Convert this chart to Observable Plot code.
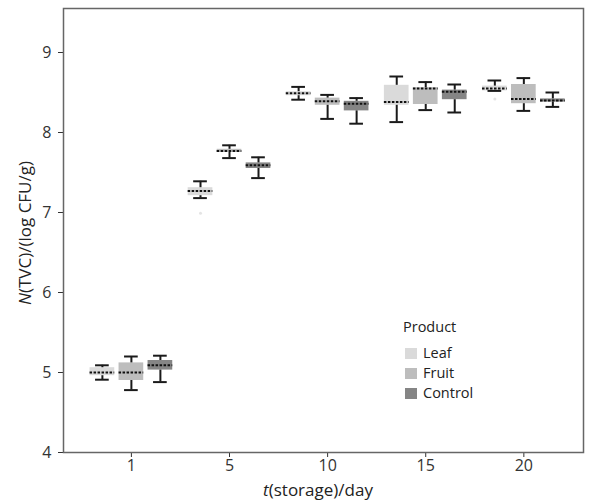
<!DOCTYPE html>
<html><head><meta charset="utf-8">
<script src="https://cdn.jsdelivr.net/npm/d3@7"></script>
<script src="https://cdn.jsdelivr.net/npm/@observablehq/plot@0.6"></script>
<style>
body{margin:0;background:#fff;font-family:"Open Sans",sans-serif;}
#wrap{position:relative;width:595px;height:500px;}
.lab{position:absolute;color:#222;font-size:17px;white-space:nowrap;line-height:1;}
.sw{position:absolute;width:12px;height:11px;}
</style></head><body><div id="wrap"></div>
<script>
const days = ["1", "5", "10", "15", "20"];
const products = ["Leaf", "Fruit", "Control"];
const productColors = ["#dadada", "#bdbdbd", "#858585"];
// per day: [low whisker, Q1, median, Q3, high whisker]
const leaf = [[4.91, 4.96, 5.00, 5.06, 5.09], [7.18, 7.21, 7.27, 7.31, 7.39], [8.41, 8.46, 8.49, 8.51, 8.57], [8.13, 8.34, 8.38, 8.59, 8.70], [8.52, 8.52, 8.55, 8.58, 8.65]];
const fruit = [[4.78, 4.90, 5.00, 5.12, 5.20], [7.68, 7.75, 7.77, 7.79, 7.84], [8.17, 8.34, 8.39, 8.43, 8.47], [8.28, 8.35, 8.55, 8.56, 8.63], [8.27, 8.36, 8.42, 8.60, 8.68]];
const control = [[4.88, 5.03, 5.09, 5.15, 5.21], [7.43, 7.55, 7.59, 7.62, 7.69], [8.11, 8.27, 8.36, 8.39, 8.43], [8.25, 8.41, 8.51, 8.53, 8.60], [8.32, 8.38, 8.40, 8.42, 8.50]];
const outlierDay = ["5", "20"];
const outlierProduct = ["Leaf", "Leaf"];
const outlierValue = [6.99, 8.42];
const yTicks = [4, 5, 6, 7, 8, 9];

const rows = [];
[leaf, fruit, control].forEach((arr, i) => arr.forEach((s, j) => rows.push({
  day: days[j], product: products[i], lo: s[0], q1: s[1], med: s[2], q3: s[3], hi: s[4]
})));
const outliers = outlierDay.map((d, i) => ({day: d, product: outlierProduct[i], v: outlierValue[i]}));

const groupStep = 29, boxInset = 22, capInset = 27.5;
const marks = [Plot.frame({stroke: "#666", strokeWidth: 1.5})];
products.forEach((p, i) => {
  const data = rows.filter(r => r.product === p);
  const dx = (i - 1) * groupStep;
  const wk = {stroke: "#1a1a1a", strokeWidth: 2, dx};
  marks.push(
    Plot.barY(data, {x: "day", y1: "q1", y2: "q3", fill: "product", dx, insetLeft: boxInset, insetRight: boxInset}),
    Plot.ruleX(data, {x: "day", y1: "lo", y2: "q1", ...wk}),
    Plot.ruleX(data, {x: "day", y1: "q3", y2: "hi", ...wk}),
    Plot.tickY(data, {x: "day", y: "lo", insetLeft: capInset, insetRight: capInset, ...wk}),
    Plot.tickY(data, {x: "day", y: "hi", insetLeft: capInset, insetRight: capInset, ...wk}),
    Plot.tickY(data, {x: "day", y: "med", dx, insetLeft: boxInset, insetRight: boxInset, stroke: "#111", strokeWidth: 2, strokeDasharray: "2.5,1.5"}),
    Plot.dot(outliers.filter(o => o.product === p), {x: "day", y: "v", dx, r: 1.5, fill: "#e4e4e4", stroke: "none"})
  );
});

const chart = Plot.plot({
  width: 595, height: 500,
  marginLeft: 63, marginRight: 12, marginTop: 8, marginBottom: 48,
  style: {fontFamily: "'Open Sans', sans-serif", fontSize: "16px", color: "#333", background: "white"},
  x: {type: "band", domain: days, paddingInner: 0.3, paddingOuter: 0.3, align: 0.57, round: false, label: null, tickSize: 5, tickPadding: 2},
  y: {domain: [4, 9.55], ticks: yTicks, tickFormat: d => String(d), tickSize: 5, tickPadding: 7, label: null},
  color: {domain: products, range: productColors},
  marks
});
const wrap = document.getElementById("wrap");
wrap.appendChild(chart);

function addLabel(html, style) {
  const d = document.createElement("div");
  d.className = "lab"; d.innerHTML = html;
  Object.assign(d.style, style);
  wrap.appendChild(d);
  return d;
}
addLabel("<i>t</i>(storage)/day", {left: "318px", top: "481px", transform: "translateX(-50%)"});
addLabel("<i>N</i>(TVC)/(log CFU/g)", {left: "24px", top: "233px", transform: "translate(-50%,-50%) rotate(-90deg)"});
addLabel("Product", {left: "403px", top: "320px", fontSize: "14.5px"});
products.forEach((p, i) => {
  const y = 348 + i * 20;
  const s = document.createElement("div");
  s.className = "sw"; s.style.left = "405px"; s.style.top = y + "px"; s.style.background = productColors[i];
  wrap.appendChild(s);
  addLabel(p, {left: "423px", top: (y - 2) + "px", fontSize: "14.5px"});
});
</script></body></html>
